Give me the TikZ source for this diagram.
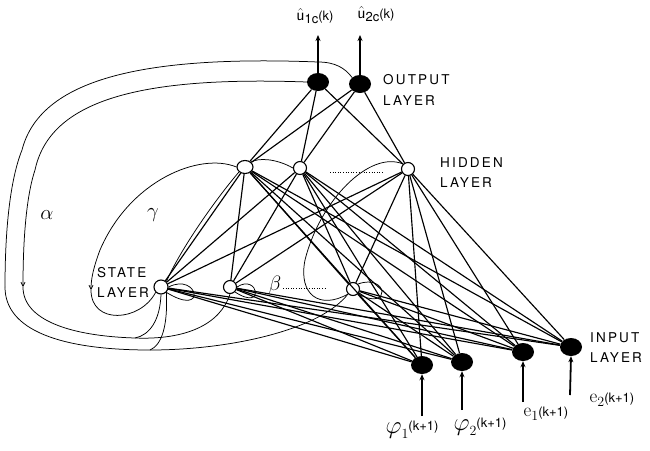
\documentclass[tikz,border=0pt]{standalone}
\usepackage{fontspec}
\newfontfamily\labf[LetterSpace=16]{TeX Gyre Heros}
\newfontfamily\smf{TeX Gyre Heros}
\usetikzlibrary{arrows.meta,shapes.geometric}
\newcommand{\fs}[1]{\fontsize{#1}{#1}\selectfont}
\begin{document}
\begin{tikzpicture}[x=1pt,y=-1pt,
  outn/.style={ellipse,fill=black,inner sep=0pt,minimum width=22pt,minimum height=18pt},
  hidn/.style={circle,draw,line width=1.1pt,fill=white,inner sep=0pt,minimum size=13pt},
  conn/.style={line width=1.15pt},
  fb/.style={line width=0.75pt},
  fbarr/.style={line width=0.75pt,-{Straight Barb[length=4pt,width=4pt]}},
  bigarr/.style={line width=1.8pt,-{Stealth[length=6pt,width=5pt]}},
  layerlab/.style={anchor=west,font=\labf\fs{13.5},inner sep=0pt},
  greek/.style={font=\fs{21},inner sep=0pt},
  iolab/.style={inner sep=0pt}
]
\useasboundingbox (0,0) rectangle (650,450);

% nodes
\node[outn] (O1) at (318,82) {};
\node[outn] (O2) at (360,84) {};
\node[hidn,minimum width=16pt,ellipse] (H1) at (245,167) {};
\node[hidn] (H2) at (300,168) {};
\node[hidn] (H3) at (408,169) {};
\node[hidn,minimum size=14pt] (S1) at (161,287) {};
\node[hidn] (S2) at (230,287) {};
\node[hidn] (S3) at (353,289) {};
\node[outn] (I1) at (422,365) {};
\node[outn] (I2) at (462,362) {};
\node[outn] (I3) at (523,352) {};
\node[outn] (I4) at (571,347) {};

% hidden -> output
\foreach \h in {H1,H2,H3}{\foreach \o in {O1,O2}{\draw[conn] (\h) -- (\o);}}
% input -> hidden
\foreach \i in {I1,I2,I3,I4}{\foreach \h in {H1,H2,H3}{\draw[conn] (\i) -- (\h);}}
% state -> hidden
\foreach \s in {S1,S2,S3}{\foreach \h in {H1,H2,H3}{\draw[conn] (\s) -- (\h);}}
% state -- input bundle
\foreach \s in {S1,S2,S3}{\foreach \i in {I1,I2,I3,I4}{\draw[conn] (\s) -- (\i);}}

% alpha feedback arcs
\coordinate (a1) at (23,287);
\coordinate (a2) at (5,287);
\coordinate (b1) at (135,338);
\coordinate (b2) at (150,350);
\draw[fbarr] (O1.west) .. controls (140,76) and (50,100) .. (35,170)
   .. controls (25,200) and (23,250) .. (a1);
\draw[fb] (a1) .. controls (23,320) and (70,336) .. (b1)
   .. controls (185,340) and (220,325) .. (S2.south);
\draw[fb] (O2.north west) .. controls (345,68) and (335,62) .. (318,62)
   .. controls (140,55) and (40,80) .. (22,150)
   .. controls (10,180) and (5,230) .. (a2);
\draw[fb] (a2) .. controls (5,330) and (60,350) .. (b2)
   .. controls (230,350) and (320,330) .. (S3.south west);
\draw[fb] (S1.south) .. controls (160,320) and (150,335) .. (b1);
\draw[fb] (S1.south east) .. controls (168,325) and (162,345) .. (b2);

% gamma feedback
\coordinate (g1) at (91,290);
\draw[fbarr] (H1.west) .. controls (200,152) and (130,180) .. (100,250)
   .. controls (94,266) and (91,278) .. (g1);
\draw[fb] (g1) .. controls (91,325) and (140,322) .. (S1.south west);
\draw[fb] (H2.west) .. controls (275,158) and (258,158) .. (H1.north east);
\draw[fb] (H1.south west) .. controls (215,200) and (180,250) .. (S1.north east);
\draw[fb] (H3.north west) .. controls (370,150) and (320,200) .. (305,260)
   .. controls (298,295) and (320,310) .. (S3.south west);

% beta self loops
\draw[fb] (S1.east) .. controls (198,272) and (208,318) .. (S1.south east);
\draw[fb] (S2.east) .. controls (258,273) and (266,312) .. (S2.south east);
\draw[fb] (S3.north east) .. controls (388,273) and (392,312) .. (S3.south east);

% dotted continuation
\coordinate (d1) at (330,172); \coordinate (d2) at (383,172);
\coordinate (d3) at (283,288); \coordinate (d4) at (325,288);
\draw[dotted,line width=0.6pt] (d1) -- (d2);
\draw[dotted,line width=0.6pt] (d3) -- (d4);

% output arrows
\coordinate (u1) at (318,35); \coordinate (u2) at (360,35);
\draw[bigarr] (O1.north) -- (u1);
\draw[bigarr] (O2.north) -- (u2);
% input arrows
\coordinate (i1) at (422,416); \coordinate (i2) at (462,410);
\coordinate (i3) at (523,402); \coordinate (i4) at (570,395);
\draw[bigarr] (i1) -- (I1.south);
\draw[bigarr] (i2) -- (I2.south);
\draw[bigarr] (i3) -- (I3.south);
\draw[bigarr] (i4) -- (I4.south);

% labels
\node[iolab] (lu1) at (315,16) {\smf\fs{17}$\hat{\mathsf{u}}$\raisebox{-3pt}{\fs{13}1c}\fs{13}(k)};
\node[iolab] (lu2) at (376,14) {\smf\fs{17}$\hat{\mathsf{u}}$\raisebox{-3pt}{\fs{13}2c}\fs{13}(k)};
\node[iolab] (lp1) at (412,430) {\fs{24}$\varphi$\raisebox{-5pt}{\fs{14}1}\raisebox{3pt}{\smf\fs{13}(k+1)}};
\node[iolab] (lp2) at (480,427) {\fs{24}$\varphi$\raisebox{-5pt}{\fs{14}2}\raisebox{3pt}{\smf\fs{13}(k+1)}};
\node[iolab] (le1) at (546,414) {\fs{19}e\raisebox{-4pt}{\fs{14}1}\smf\fs{13}(k+1)};
\node[iolab] (le2) at (612,400) {\fs{19}e\raisebox{-4pt}{\fs{14}2}\smf\fs{13}(k+1)};

\node[layerlab] (lo1) at (383,80) {OUTPUT};
\node[layerlab] (lo2) at (383,101) {LAYER};
\node[layerlab] (lh1) at (440,163) {HIDDEN};
\node[layerlab] (lh2) at (440,183) {LAYER};
\node[layerlab] (ls1) at (97,273) {STATE};
\node[layerlab] (ls2) at (97,293) {LAYER};
\node[layerlab] (li1) at (590,338) {INPUT};
\node[layerlab] (li2) at (590,358) {LAYER};

\node[greek] (la) at (47,215) {$\alpha$};
\node[greek] (lg) at (153,215) {$\gamma$};
\node[greek] (lb) at (275,285) {$\beta$};
\end{tikzpicture}
\end{document}
